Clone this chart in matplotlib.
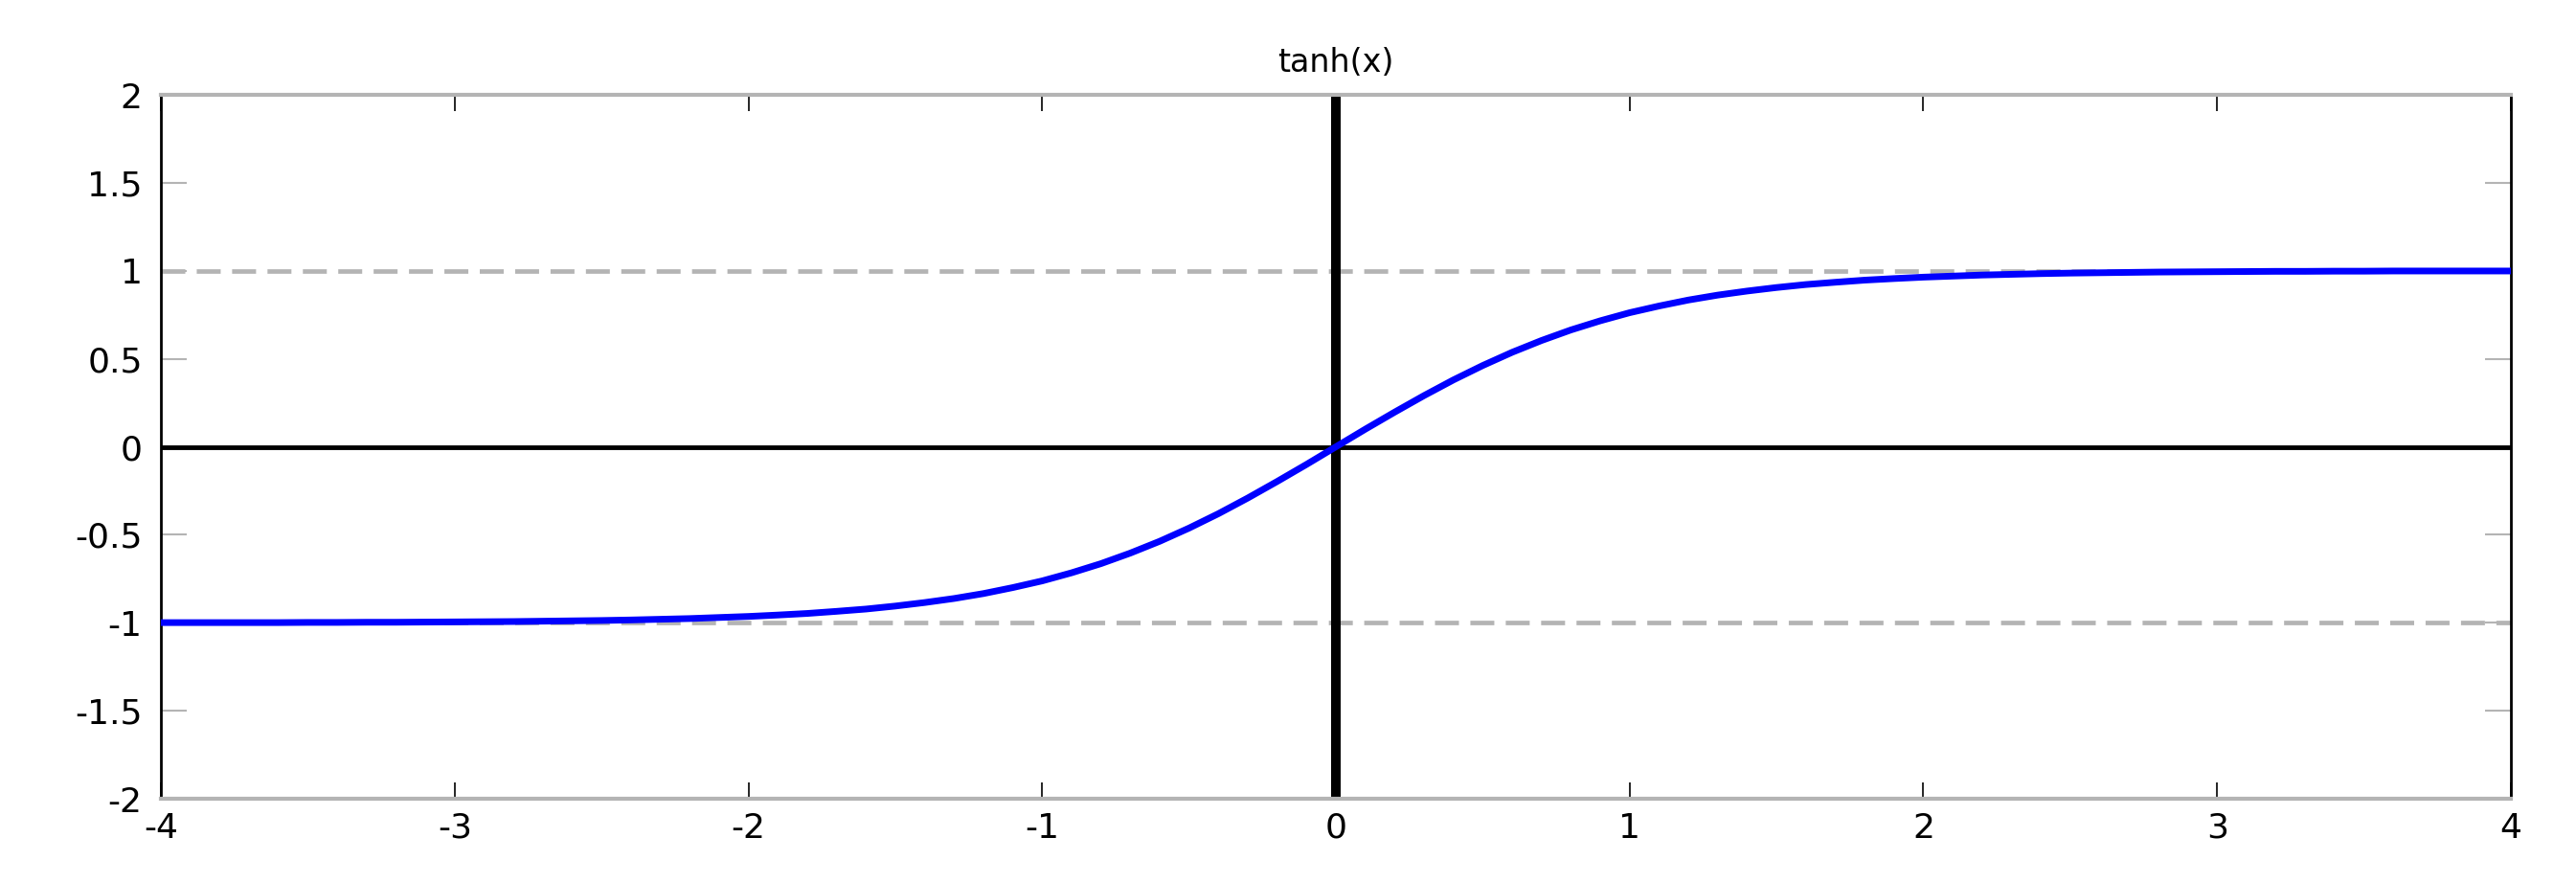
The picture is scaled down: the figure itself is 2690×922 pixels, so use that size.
import matplotlib.pyplot as plt

plt.rcParams['font.family'] = ['DejaVu Sans']
plt.rcParams['lines.scale_dashes'] = False

# tanh(x) curve, values (step 0.1)
x_vals = [-4.0, -3.9, -3.8, -3.7, -3.6, -3.5, -3.4, -3.3, -3.2, -3.1,
          -3.0, -2.9, -2.8, -2.7, -2.6, -2.5, -2.4, -2.3, -2.2, -2.1,
          -2.0, -1.9, -1.8, -1.7, -1.6, -1.5, -1.4, -1.3, -1.2, -1.1,
          -1.0, -0.9, -0.8, -0.7, -0.6, -0.5, -0.4, -0.3, -0.2, -0.1,
          0.0, 0.1, 0.2, 0.3, 0.4, 0.5, 0.6, 0.7, 0.8, 0.9,
          1.0, 1.1, 1.2, 1.3, 1.4, 1.5, 1.6, 1.7, 1.8, 1.9,
          2.0, 2.1, 2.2, 2.3, 2.4, 2.5, 2.6, 2.7, 2.8, 2.9,
          3.0, 3.1, 3.2, 3.3, 3.4, 3.5, 3.6, 3.7, 3.8, 3.9, 4.0]
y_vals = [-0.999, -0.999, -0.999, -0.999, -0.999, -0.998, -0.998, -0.997, -0.997, -0.996,
          -0.995, -0.994, -0.993, -0.991, -0.989, -0.987, -0.984, -0.980, -0.976, -0.970,
          -0.964, -0.956, -0.947, -0.935, -0.922, -0.905, -0.885, -0.862, -0.834, -0.800,
          -0.762, -0.716, -0.664, -0.604, -0.537, -0.462, -0.380, -0.291, -0.197, -0.100,
          0.0, 0.100, 0.197, 0.291, 0.380, 0.462, 0.537, 0.604, 0.664, 0.716,
          0.762, 0.800, 0.834, 0.862, 0.885, 0.905, 0.922, 0.935, 0.947, 0.956,
          0.964, 0.970, 0.976, 0.980, 0.984, 0.987, 0.989, 0.991, 0.993, 0.994,
          0.995, 0.996, 0.997, 0.997, 0.998, 0.998, 0.999, 0.999, 0.999, 0.999, 0.999]

# asymptotes
asymptotes = [-1, 1]

# ticks
x_ticks = [-4, -3, -2, -1, 0, 1, 2, 3, 4]
x_tick_labels = ["-4", "-3", "-2", "-1", "0", "1", "2", "3", "4"]
y_ticks = [-2, -1.5, -1, -0.5, 0, 0.5, 1, 1.5, 2]
y_tick_labels = ["-2", "-1.5", "-1", "-0.5", "0", "0.5", "1", "1.5", "2"]

GRAY = '#b4b4b4'

fig = plt.figure(figsize=(26.9, 9.22), dpi=100)
ax = fig.add_axes([0.0625, 0.0954, 0.9122, 0.7972])

# axes through the origin
ax.axvline(0, color='black', linewidth=7.2, zorder=2)
ax.axhline(0, color='black', linewidth=3.5, zorder=2)

# dashed asymptotes
for a in asymptotes:
    ax.axhline(a, color=GRAY, linewidth=3.4, linestyle=(0, (18, 8.6)), zorder=1)

# the curve
ax.plot(x_vals, y_vals, color='#0000ff', linewidth=5, zorder=3,
        solid_joinstyle='round')

ax.set_xlim(-4, 4)
ax.set_ylim(-2, 2)
ax.set_xticks(x_ticks)
ax.set_xticklabels(x_tick_labels)
ax.set_yticks(y_ticks)
ax.set_yticklabels(y_tick_labels)

ax.tick_params(axis='x', direction='in', top=True, bottom=True, length=12,
               width=1.2, color='black', pad=10, labelsize=26)
ax.tick_params(axis='y', direction='in', left=True, right=True, length=19.5,
               width=1.5, color=GRAY, pad=14, labelsize=26)

for side in ['top', 'bottom']:
    ax.spines[side].set_color(GRAY)
    ax.spines[side].set_linewidth(3)
for side in ['left', 'right']:
    ax.spines[side].set_color('black')
    ax.spines[side].set_linewidth(2)

ax.set_title('tanh(x)', fontsize=24, pad=17)

fig.savefig('out.png', dpi=100)
